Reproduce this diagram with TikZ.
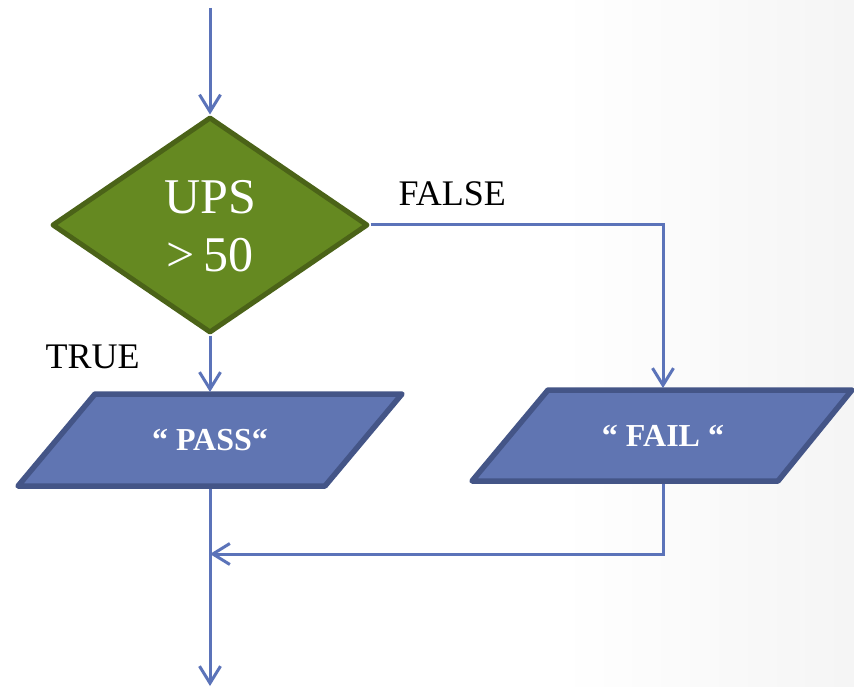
\documentclass[tikz,border=0pt]{standalone}
\usepackage{fontspec}
\setmainfont{Liberation Serif}
\usetikzlibrary{shapes.geometric,arrows.meta}

\definecolor{flowline}{RGB}{91,115,185}
\definecolor{decfill}{RGB}{101,137,33}
\definecolor{decedge}{RGB}{75,99,24}
\definecolor{iofill}{RGB}{96,117,178}
\definecolor{ioedge}{RGB}{68,85,135}

\tikzset{
  flow/.style={draw=flowline, line width=3pt,
    -{Straight Barb[length=17pt,width=21pt,line width=3pt]}},
  decision/.style={diamond, draw=decedge, fill=decfill, line width=5pt,
    minimum width=316pt, minimum height=216pt, inner sep=0pt, line join=round},
  iobox/.style={draw=ioedge, fill=iofill, line width=5.5pt, line join=round},
  iotext/.style={text=white, font=\bfseries\fontsize{32}{36}\selectfont},
  caption/.style={text=black, font=\fontsize{36}{40}\selectfont},
}

\begin{document}
\begin{tikzpicture}[x=1pt,y=-1pt]
\useasboundingbox (0,0) rectangle (854,687);

% soft grey wash on the right-hand side of the page
\fill[white] (0,0) rectangle (854,687);
\shade[left color=white, right color=black!4] (560,0) rectangle (854,687);

% decision
\node[decision] (dec) at (210,225) {};
\node[text=white, align=center, font=\fontsize{50}{58}\selectfont]
  (dectext) at (210,226) {UPS\\>\,50};

% output boxes
\draw[iobox] (95,394) -- (402,394) -- (325,486) -- (18,486) -- cycle;
\node[iotext] (pass) at (210,440) {“ PASS“};
\coordinate (passN) at (210,392);
\coordinate (passS) at (210,489);

\draw[iobox] (548,390) -- (852,390) -- (778,481) -- (472,481) -- cycle;
\node[iotext] (fail) at (663,436) {“ FAIL “};
\coordinate (failN) at (663,388);
\coordinate (failS) at (663,484);

% branch labels
\node[caption, anchor=base west] (falselbl) at (395,206) {FALSE};
\node[caption, anchor=base west] (truelbl) at (42,368) {TRUE};

% connectors
\coordinate (start) at (210,8);
\coordinate (merge) at (210,554);
\coordinate (failcorner) at (663,554);
\coordinate (finish) at (210,686);

\draw[flow] (start) -- (dec.north);
\draw[flow] (dec.south) -- (passN);
\draw[flow] (dec.east) -| (failN);
\draw[flow] (failS) -- (failcorner) -- (merge);
\draw[flow] (passS) -- (finish);
\end{tikzpicture}
\end{document}
